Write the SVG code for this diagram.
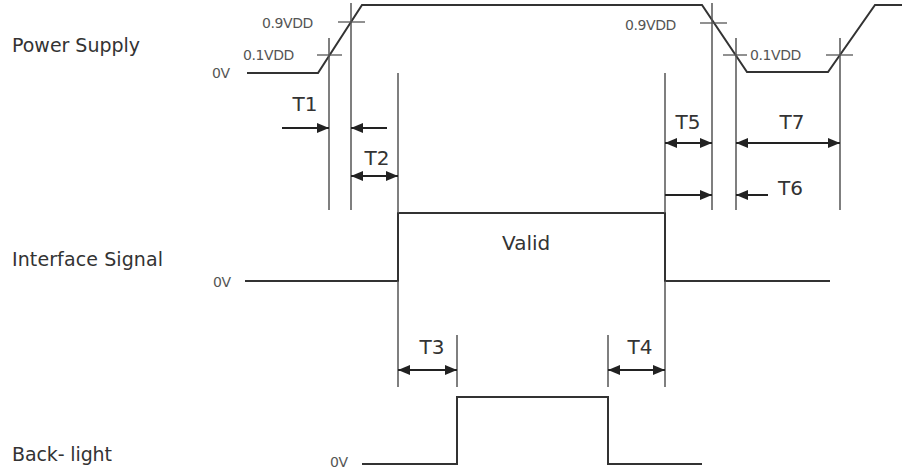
<svg xmlns="http://www.w3.org/2000/svg" width="902" height="475" viewBox="0 0 902 475">
<style>
.bg{fill:#ffffff}
.wave{fill:none;stroke:#333;stroke-width:2;stroke-linejoin:miter}
.ref{fill:none;stroke:#555;stroke-width:1.5}
.tick{fill:none;stroke:#555;stroke-width:1.3}
.dim{fill:none;stroke:#222;stroke-width:2}
.lbl{font-family:"DejaVu Sans","Liberation Sans",sans-serif;font-size:19px;fill:#333}
.sm{font-family:"DejaVu Sans","Liberation Sans",sans-serif;font-size:14px;fill:#555;letter-spacing:-0.4px}
.t{font-family:"DejaVu Sans","Liberation Sans",sans-serif;font-size:20px;fill:#333}
</style>
<defs>
<marker id="ah" viewBox="0 0 12 10" refX="12" refY="5" markerWidth="12" markerHeight="10" markerUnits="userSpaceOnUse" orient="auto-start-reverse">
<path d="M0,0 L12,5 L0,10 z" fill="#222"/>
</marker>
</defs>
<rect class="bg" x="0" y="0" width="902" height="475"/>

<g id="power-supply">
<text class="lbl" x="12" y="52" textLength="128">Power Supply</text>
<polyline class="wave" points="247,73 318,73 362,5 702,5 747,72 828,72 875,5 902,5"/>
<text class="sm" x="212" y="78">0V</text>
<text class="sm" x="262" y="28">0.9VDD</text>
<text class="sm" x="243" y="60">0.1VDD</text>
<text class="sm" x="625" y="30">0.9VDD</text>
<text class="sm" x="750" y="60">0.1VDD</text>
<line class="tick" x1="317" y1="55" x2="342" y2="55"/>
<line class="tick" x1="338" y1="22" x2="365" y2="22"/>
<line class="tick" x1="700" y1="23" x2="727" y2="23"/>
<line class="tick" x1="723" y1="55" x2="747" y2="55"/>
<line class="tick" x1="826" y1="55" x2="853" y2="55"/>
</g>

<g id="interface-signal">
<text class="lbl" x="12" y="266" textLength="151">Interface Signal</text>
<text class="sm" x="213" y="287">0V</text>
<polyline class="wave" points="245,281 398,281 398,213 665,213 665,281 830,281"/>
<text class="t" x="502" y="250">Valid</text>
</g>

<g id="back-light">
<text class="lbl" x="12" y="461" textLength="100">Back- light</text>
<text class="sm" x="330" y="467">0V</text>
<polyline class="wave" points="362,464 457,464 457,397 608,397 608,464 702,464"/>
</g>

<g id="reference-lines">
<line class="ref" x1="329" y1="38" x2="329" y2="210"/>
<line class="ref" x1="351" y1="3" x2="351" y2="210"/>
<line class="ref" x1="398" y1="73" x2="398" y2="213"/>
<line class="ref" x1="398" y1="281" x2="398" y2="387"/>
<line class="ref" x1="665" y1="73" x2="665" y2="213"/>
<line class="ref" x1="665" y1="281" x2="665" y2="387"/>
<line class="ref" x1="712" y1="3" x2="712" y2="210"/>
<line class="ref" x1="736" y1="38" x2="736" y2="210"/>
<line class="ref" x1="840" y1="38" x2="840" y2="210"/>
<line class="ref" x1="457" y1="335" x2="457" y2="387"/>
<line class="ref" x1="608" y1="335" x2="608" y2="387"/>
</g>

<g id="connectors">
<line class="dim" x1="282" y1="128" x2="329" y2="128" marker-end="url(#ah)"/>
<line class="dim" x1="387" y1="128" x2="351" y2="128" marker-end="url(#ah)"/>
<line class="dim" x1="351" y1="176" x2="398" y2="176" marker-start="url(#ah)" marker-end="url(#ah)"/>
<line class="dim" x1="398" y1="370" x2="457" y2="370" marker-start="url(#ah)" marker-end="url(#ah)"/>
<line class="dim" x1="608" y1="370" x2="665" y2="370" marker-start="url(#ah)" marker-end="url(#ah)"/>
<line class="dim" x1="665" y1="143" x2="712" y2="143" marker-start="url(#ah)" marker-end="url(#ah)"/>
<line class="dim" x1="736" y1="143" x2="840" y2="143" marker-start="url(#ah)" marker-end="url(#ah)"/>
<line class="dim" x1="665" y1="195" x2="712" y2="195" marker-end="url(#ah)"/>
<line class="dim" x1="768" y1="195" x2="736" y2="195" marker-end="url(#ah)"/>
</g>

<g id="timing-labels">
<text class="t" x="305" y="111" text-anchor="middle">T1</text>
<text class="t" x="377" y="165" text-anchor="middle">T2</text>
<text class="t" x="432" y="354" text-anchor="middle">T3</text>
<text class="t" x="640" y="354" text-anchor="middle">T4</text>
<text class="t" x="688" y="129" text-anchor="middle">T5</text>
<text class="t" x="778" y="195">T6</text>
<text class="t" x="792" y="129" text-anchor="middle">T7</text>
</g>
</svg>
